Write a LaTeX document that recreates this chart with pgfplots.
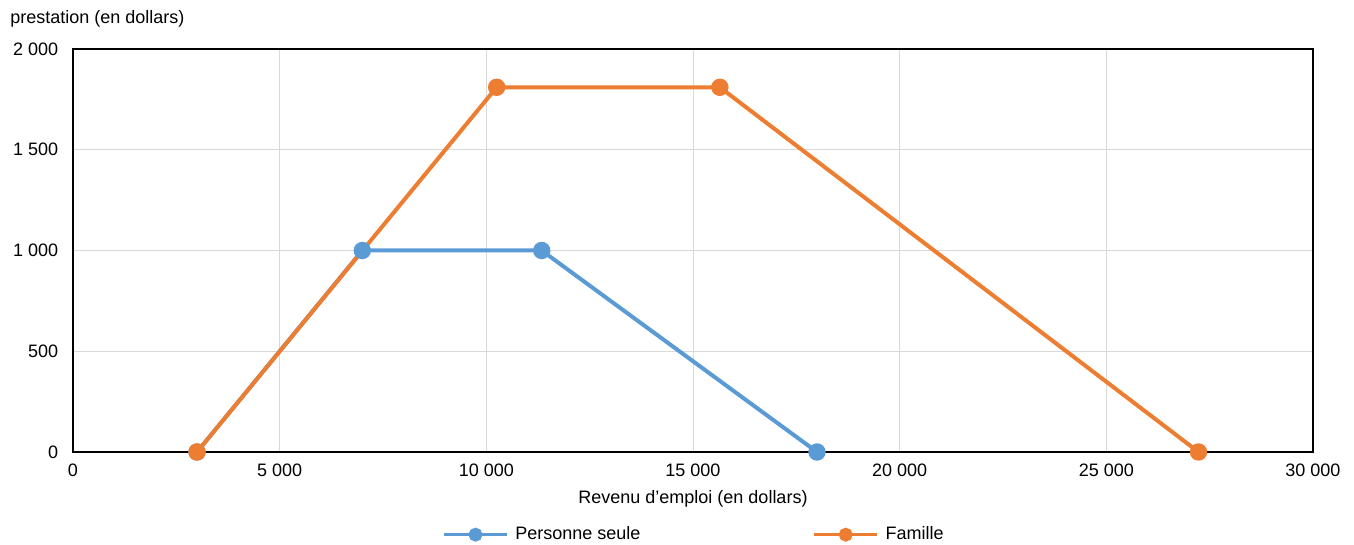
\documentclass[border=0pt]{standalone}
\usepackage{pgfplots}
\pgfplotsset{compat=1.18}
\usepackage{fontspec}
\setmainfont{Liberation Sans}
\definecolor{cblue}{HTML}{5B9BD5}
\definecolor{corange}{HTML}{ED7D31}
\definecolor{cgrid}{HTML}{D9D9D9}
\begin{document}
\fontsize{13.5pt}{16pt}\selectfont
\begin{tikzpicture}
\begin{axis}[
  scale only axis,
  width=930pt, height=302.25pt,
  xmin=0, xmax=30000, ymin=0, ymax=2000,
  xtick={0,5000,10000,15000,20000,25000,30000},
  ytick={0,500,1000,1500,2000},
  grid=major,
  major grid style={cgrid, line width=0.75pt},
  axis line style={black, line width=0.9pt},
  tick style={draw=none},
  /pgf/number format/.cd, 1000 sep={\ }, assume math mode=true, /pgfplots/.cd,
  scaled ticks=false,
  yticklabel style={inner sep=0pt, xshift=-11pt},
  xticklabel style={inner sep=0pt, yshift=-9pt},
  xlabel={Revenu d’emploi (en dollars)},
  xlabel style={at={(axis description cs:0.5,0)}, anchor=base, yshift=-38.5pt, inner sep=0pt},
  legend style={at={(axis description cs:0.5,0)}, anchor=center, yshift=-62pt, draw=none, fill=none,
    legend columns=2, inner sep=0pt,
    /tikz/every even column/.append style={column sep=129pt},
    nodes={inner sep=0pt, anchor=west}},
  legend cell align=left,
  legend image code/.code={\draw[#1, line width=2.6pt, mark size=3.9pt, mark repeat=2, mark phase=2] plot coordinates {(0pt,0pt) (23.6pt,0pt) (47.25pt,0pt)};},
]
\addplot[cblue, line width=3pt, mark=*, mark size=5pt, mark options={solid}] coordinates {
  (3000,0) (7000,1000) (11340,1000) (18000,0)
};
\addlegendentry{\hspace{5pt}Personne seule}
\addplot[corange, line width=3pt, mark=*, mark size=5pt, mark options={solid}] coordinates {
  (3000,0) (10250,1810) (15650,1810) (27230,0)
};
\addlegendentry{\hspace{5pt}Famille}
\end{axis}
\node[anchor=base west, inner sep=0pt] at (-47.25pt,321pt) {prestation (en dollars)};
\pgfresetboundingbox
\path[use as bounding box] (-54.75pt,-69.75pt) rectangle (960.75pt,339pt);
\end{tikzpicture}
\end{document}
